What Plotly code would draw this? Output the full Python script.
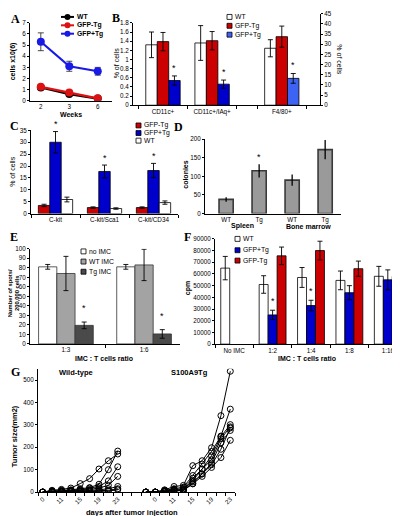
import plotly.graph_objects as go

W, H = 400, 516
def X(p): return p / W
def Y(p): return 1 - p / H

FONT = "Liberation Sans, Arial, sans-serif"
SERIF = "Liberation Serif, Times New Roman, serif"
RED = "#CC0000"; BLUE = "#0000CC"; LBLUE = "#3D63F5"
BARGAP = 0.3
SLOT = (1 - BARGAP) / 3

# ---------------- data ----------------
# A
a_weeks = ["2", "3", "6"]
a_wt = [1.2, 0.6, 0.2];        a_wt_err = [0.1, 0.1, 0.05]
a_neg = [1.25, 0.75, 0.22];    a_neg_err = [0.1, 0.1, 0.05]
a_pos = [5.3, 3.1, 2.65];      a_pos_err = [0.8, 0.45, 0.35]
# B
b_cats_l = ["CD11c+", "CD11c+/IAq+"]
b_wt_l = [1.32, 1.36];  b_wt_l_err = [0.28, 0.38]
b_neg_l = [1.39, 1.41]; b_neg_l_err = [0.2, 0.2]
b_pos_l = [0.54, 0.46]; b_pos_l_err = [0.1, 0.09]
b_cats_r = ["F4/80+"]
b_wt_r = [28.0];  b_wt_r_err = [4.2]
b_neg_r = [33.7]; b_neg_r_err = [5.2]
b_pos_r = [13.2]; b_pos_r_err = [2.4]
# C
c_cats = ["C-kit", "C-kit/Sca1", "C-kit/CD34"]
c_neg = [3.4, 2.5, 2.5];     c_neg_err = [0.5, 0.3, 0.3]
c_pos = [30.0, 17.7, 18.1];  c_pos_err = [4.5, 2.7, 3.0]
c_wt = [5.9, 2.1, 4.6];      c_wt_err = [1.0, 0.3, 0.7]
# D
d_groups = ["Spleen", "Bone marrow"]
d_labels = ["WT", "Tg", "WT", "Tg"]
d_vals = [38, 115, 90, 172]
d_err = [6, 18, 15, 26]
d_sig = [False, True, False, True]
# E
e_cats = ["1:3", "1:6"]
e_no = [81, 81];      e_no_err = [2.5, 2.5]
e_wt = [74, 83];      e_wt_err = [18, 16.5]
e_tg = [19.5, 10.5];  e_tg_err = [3.5, 4.5]
# F
f_cats = ["No IMC", "1:2", "1:4", "1:8", "1:16"]
f_wt = [65000, 51000, 57000, 54500, 58000];  f_wt_err = [10000, 7500, 8500, 8000, 8500]
f_pos = [None, 25000, 33000, 44000, 55000];  f_pos_err = [0, 4000, 4500, 6000, 8500]
f_neg = [None, 75500, 80000, 64500, 58000];  f_neg_err = [0, 7500, 8000, 6500, 5500]
f_sig = [False, True, True, False, False]
# G
g_ticklabels = ["0", "", "11", "", "15", "", "19", "", "23", "", "", "",
                "0", "", "11", "", "15", "", "19", "", "23"]
g_wt_x = [0, 1, 2, 3, 4, 5, 6, 7, 8]
g_wt = [
    [0, 8, 12, 18, 38, 60, 103, 140, 170],
    [0, 5, 8, 10, 15, 20, 35, 100, 183],
    [0, 3, 5, 8, 10, 18, 25, 50, 113],
    [0, 2, 5, 5, 8, 12, 18, 30, 70],
    [0, 2, 3, 3, 5, 8, 10, 15, 25],
    [0, 0, 2, 3, 3, 5, 5, 8, 15],
    [0, 0, 0, 2, 2, 3, 3, 5, 10],
]
g_tg_x = [11, 12, 13, 14, 15, 16, 17, 18, 19, 20]
g_tg = [
    [0, 0, 10, 25, 30, 118, 140, 198, 341, 539],
    [0, 0, 8, 15, 22, 74, 125, 181, 250, 370],
    [0, 0, 5, 12, 15, 62, 103, 162, 247, 301],
    [0, 0, 5, 10, 12, 51, 103, 144, 238, 291],
    [0, 0, 3, 7, 10, 37, 81, 130, 220, 275],
    [0, 0, 3, 7, 7, 45, 81, 122, 191, 286],
    [0, 0, 2, 5, 7, 37, 70, 110, 154, 231],
]

fig = go.Figure()
ann, shp = [], []

def eb(arr, width=2.5, color="black", thick=0.9):
    return dict(type="data", array=arr, visible=True, color=color, thickness=thick, width=width)

def bar(x, y, e, color, xa, ya, lc="black", lw=0.8, **kw):
    fig.add_trace(go.Bar(x=x, y=y, error_y=eb(e), marker=dict(color=color, line=dict(color=lc, width=lw)),
                         xaxis=xa, yaxis=ya, **kw))

def star(xa, ya, x, y, size=9):
    ann.append(dict(xref=xa, yref=ya, x=x, y=y, text="*", showarrow=False, yanchor="bottom",
                    font=dict(size=size, family=FONT, color="black"), yshift=-1))

def text(x, y, s, size=7, bold=False, angle=0, xanchor="center", yanchor="middle", family=FONT):
    ann.append(dict(xref="paper", yref="paper", x=X(x), y=Y(y), text=("<b>%s</b>" % s) if bold else s,
                    showarrow=False, textangle=angle, xanchor=xanchor, yanchor=yanchor,
                    font=dict(size=size, family=family, color="black")))

def letter(x, y, s):
    text(x, y, s, size=12, bold=True, xanchor="left", yanchor="middle", family=SERIF)

def sq_legend(x0, ys, colors, labels, s=5, size=6.8):
    for y, c, l in zip(ys, colors, labels):
        shp.append(dict(type="rect", xref="paper", yref="paper", x0=X(x0), x1=X(x0 + s),
                        y0=Y(y + s / 2), y1=Y(y - s / 2), fillcolor=c, line=dict(color="black", width=0.8)))
        text(x0 + s + 1, y, l, size=size, xanchor="left")

# ---------------- A ----------------
for vals, errs, col in [(a_wt, a_wt_err, "black"), (a_neg, a_neg_err, "#DD1111"), (a_pos, a_pos_err, "#1A1AE6")]:
    fig.add_trace(go.Scatter(x=a_weeks, y=vals, error_y=eb(errs, width=3, color="#333"),
                             mode="lines+markers", line=dict(color=col, width=2.2),
                             marker=dict(color=col, size=8), xaxis="x", yaxis="y"))
for y, col, l in [(5, "black", "WT"), (13.5, "#DD1111", "GFP-Tg"), (22, "#1A1AE6", "GFP+Tg")]:
    shp.append(dict(type="line", xref="paper", yref="paper", x0=X(53), x1=X(66), y0=Y(y), y1=Y(y),
                    line=dict(color=col, width=2)))
    shp.append(dict(type="circle", xref="paper", yref="paper", x0=X(56.5), x1=X(62.5), y0=Y(y + 3), y1=Y(y - 3),
                    fillcolor=col, line=dict(color=col, width=0)))
    text(67, y, l, size=6.8, bold=True, xanchor="left")
letter(1, 7, "A")
text(5, 50, "cells x10(6)", size=7, bold=True, angle=-90)
text(63, 104, "Weeks", size=7, bold=True)

# ---------------- B ----------------
bar(b_cats_l, b_wt_l, b_wt_l_err, "white", "x2", "y2")
bar(b_cats_l, b_neg_l, b_neg_l_err, RED, "x2", "y2")
bar(b_cats_l, b_pos_l, b_pos_l_err, BLUE, "x2", "y2")
bar(b_cats_r, b_wt_r, b_wt_r_err, "white", "x3", "y3")
bar(b_cats_r, b_neg_r, b_neg_r_err, RED, "x3", "y3")
bar(b_cats_r, b_pos_r, b_pos_r_err, LBLUE, "x3", "y3")
for i in range(len(b_cats_l)):
    star("x2", "y2", i + SLOT, b_pos_l[i] + b_pos_l_err[i] + 0.05)
star("x3", "y3", SLOT, b_pos_r[0] + b_pos_r_err[0] + 1.2)
sq_legend(219, [5, 14, 23], ["white", RED, LBLUE], ["WT", "GFP-Tg", "GFP+Tg"])
letter(102, 6, "B")
text(108, 52, "% of cells", size=7, angle=-90)
text(332, 48, "% of cells", size=7, angle=90)

# ---------------- C ----------------
bar(c_cats, c_neg, c_neg_err, RED, "x4", "y4")
bar(c_cats, c_pos, c_pos_err, BLUE, "x4", "y4")
bar(c_cats, c_wt, c_wt_err, "white", "x4", "y4")
for i in range(len(c_cats)):
    star("x4", "y4", i, c_pos[i] + c_pos_err[i] + 0.5)
sq_legend(128, [115, 122.7, 130.4], [RED, BLUE, "white"], ["GFP-Tg", "GFP+Tg", "WT"])
letter(0, 116, "C")
text(5, 162, "% of cells", size=7, angle=-90)

# ---------------- D ----------------
d_x = list(range(len(d_vals)))
fig.add_trace(go.Bar(x=d_x, y=d_vals, width=0.43,
                     error_y=dict(type="data", array=d_err, visible=True, color="black", thickness=1.3, width=0),
                     marker=dict(color="#9A9A9A", line=dict(color="#3A3A3A", width=1.6)),
                     xaxis="x5", yaxis="y5"))
for i in d_x:
    if d_sig[i]:
        star("x5", "y5", i, d_vals[i] + d_err[i] + 4)
for g, name in enumerate(d_groups):
    ann.append(dict(xref="x5", yref="paper", x=2 * g + 0.5, y=Y(217), text="<b>%s</b>" % name,
                    showarrow=False, yanchor="middle", font=dict(size=7, family=FONT, color="black")))
letter(164, 117, "D")
text(178, 165, "colonies", size=7, bold=True, angle=-90)

# ---------------- E ----------------
bar(e_cats, e_no, e_no_err, "white", "x6", "y6", lc="#333")
bar(e_cats, e_wt, e_wt_err, "#A3A3A3", "x6", "y6", lc="#333")
bar(e_cats, e_tg, e_tg_err, "#4A4A4A", "x6", "y6", lc="#333")
for i in range(len(e_cats)):
    star("x6", "y6", i + SLOT, e_tg[i] + e_tg_err[i] + 8)
sq_legend(73, [242.7, 253, 263.3], ["white", "#A3A3A3", "#4A4A4A"], ["no IMC", "WT IMC", "Tg IMC"])
letter(0, 228, "E")
text(6, 285, "Number of spots/<br>200,000 cells", size=5.8, bold=True, angle=-90)
text(96, 351, "IMC : T cells ratio", size=7, bold=True)

# ---------------- F ----------------
bar(f_cats, f_wt, f_wt_err, "white", "x7", "y7")
bar(f_cats, f_pos, f_pos_err, BLUE, "x7", "y7")
bar(f_cats, f_neg, f_neg_err, RED, "x7", "y7")
for i in range(len(f_cats)):
    if f_sig[i]:
        star("x7", "y7", i, f_pos[i] + f_pos_err[i] + 2500)
sq_legend(227, [230, 241.5, 252], ["white", BLUE, RED], ["WT", "GFP+Tg", "GFP-Tg"])
letter(174, 228, "F")
text(180, 280, "cpm", size=7, bold=True, angle=-90)
text(299, 351, "IMC : T cells ratio", size=7, bold=True)

# ---------------- G ----------------
for xs, series in [(g_wt_x, g_wt), (g_tg_x, g_tg)]:
    for s in series:
        fig.add_trace(go.Scatter(x=xs, y=s, mode="lines+markers", line=dict(color="black", width=1),
                                 marker=dict(symbol="circle-open", size=6, color="black", line=dict(width=1)),
                                 xaxis="x8", yaxis="y8"))
letter(1, 365, "G")
text(68, 365, "Wild-type", size=7.5, bold=True)
text(181, 365, "S100A9Tg", size=7.5, bold=True)
text(6, 430, "Tumor size(mm2)", size=7.5, bold=True, angle=-90)
text(124, 507, "days after tumor injection", size=7.5, bold=True)

# ---------------- axes ----------------
TF = dict(size=6.3, family=FONT, color="black")
def xa(d0, d1, rng, anchor, **kw):
    base = dict(domain=[X(d0), X(d1)], range=rng, anchor=anchor, showline=True, linecolor="black",
                linewidth=1, showgrid=False, zeroline=False, ticks="", tickfont=TF, fixedrange=True,
                tickangle=0)
    base.update(kw)
    return base
def ya(top, bottom, rng, anchor, **kw):
    base = dict(domain=[Y(bottom), Y(top)], range=rng, anchor=anchor, showline=True, linecolor="black",
                linewidth=1, showgrid=False, zeroline=False, ticks="outside", ticklen=2, tickcolor="black",
                tickfont=TF, fixedrange=True)
    base.update(kw)
    return base

cat = dict(type="category", tickson="boundaries", ticks="outside", ticklen=3, tickcolor="black")
fig.update_layout(
    xaxis=xa(22, 104, [-0.38, 2.5], "y", type="category"),
    yaxis=ya(11, 90, [0, 7], "x", dtick=1),
    xaxis2=xa(125, 240, [-0.61, 1.73], "y2", **cat),
    yaxis2=ya(11, 94.5, [0, 1.8], "x2", dtick=0.2),
    xaxis3=xa(240, 312, [-0.69, 0.78], "y3", **cat),
    yaxis3=ya(1.7, 94.5, [0, 45], "x3", dtick=5, side="right"),
    xaxis4=xa(23, 170, [-0.5, 2.5], "y4", **cat),
    yaxis4=ya(120, 204.3, [0, 35], "x4", dtick=5),
    xaxis5=xa(197, 333, [-0.64, 3.48], "y5", tickmode="array", tickvals=d_x, ticktext=d_labels),
    yaxis5=ya(129, 204.3, [0, 200], "x5", dtick=50),
    xaxis6=xa(22, 172, [-0.46, 1.46], "y6", **cat),
    yaxis6=ya(240, 336.5, [0, 100], "x6", dtick=10),
    xaxis7=xa(207, 399, [-0.5, 4.5], "y7", **cat),
    yaxis7=ya(230, 336.7, [0, 90000], "x7", dtick=10000, tickformat="d"),
    xaxis8=xa(30, 227, [-0.5, 20.5], "y8", tickmode="array", tickvals=list(range(len(g_ticklabels))),
              ticktext=g_ticklabels, tickangle=-45,
              minor=dict(tick0=0.5, dtick=1, ticks="outside", ticklen=3, tickcolor="black")),
    yaxis8=ya(361.7, 486.7, [0, 550], "x8", tickmode="array", tickvals=[0, 100, 200, 300, 400, 500]),
)

fig.update_layout(width=W, height=H, autosize=False, margin=dict(l=0, r=0, t=0, b=0),
                  paper_bgcolor="white", plot_bgcolor="white", showlegend=False,
                  barmode="group", bargap=BARGAP, bargroupgap=0,
                  font=dict(family=FONT, size=7, color="black"),
                  annotations=ann, shapes=shp)
fig.write_html("out.html")
